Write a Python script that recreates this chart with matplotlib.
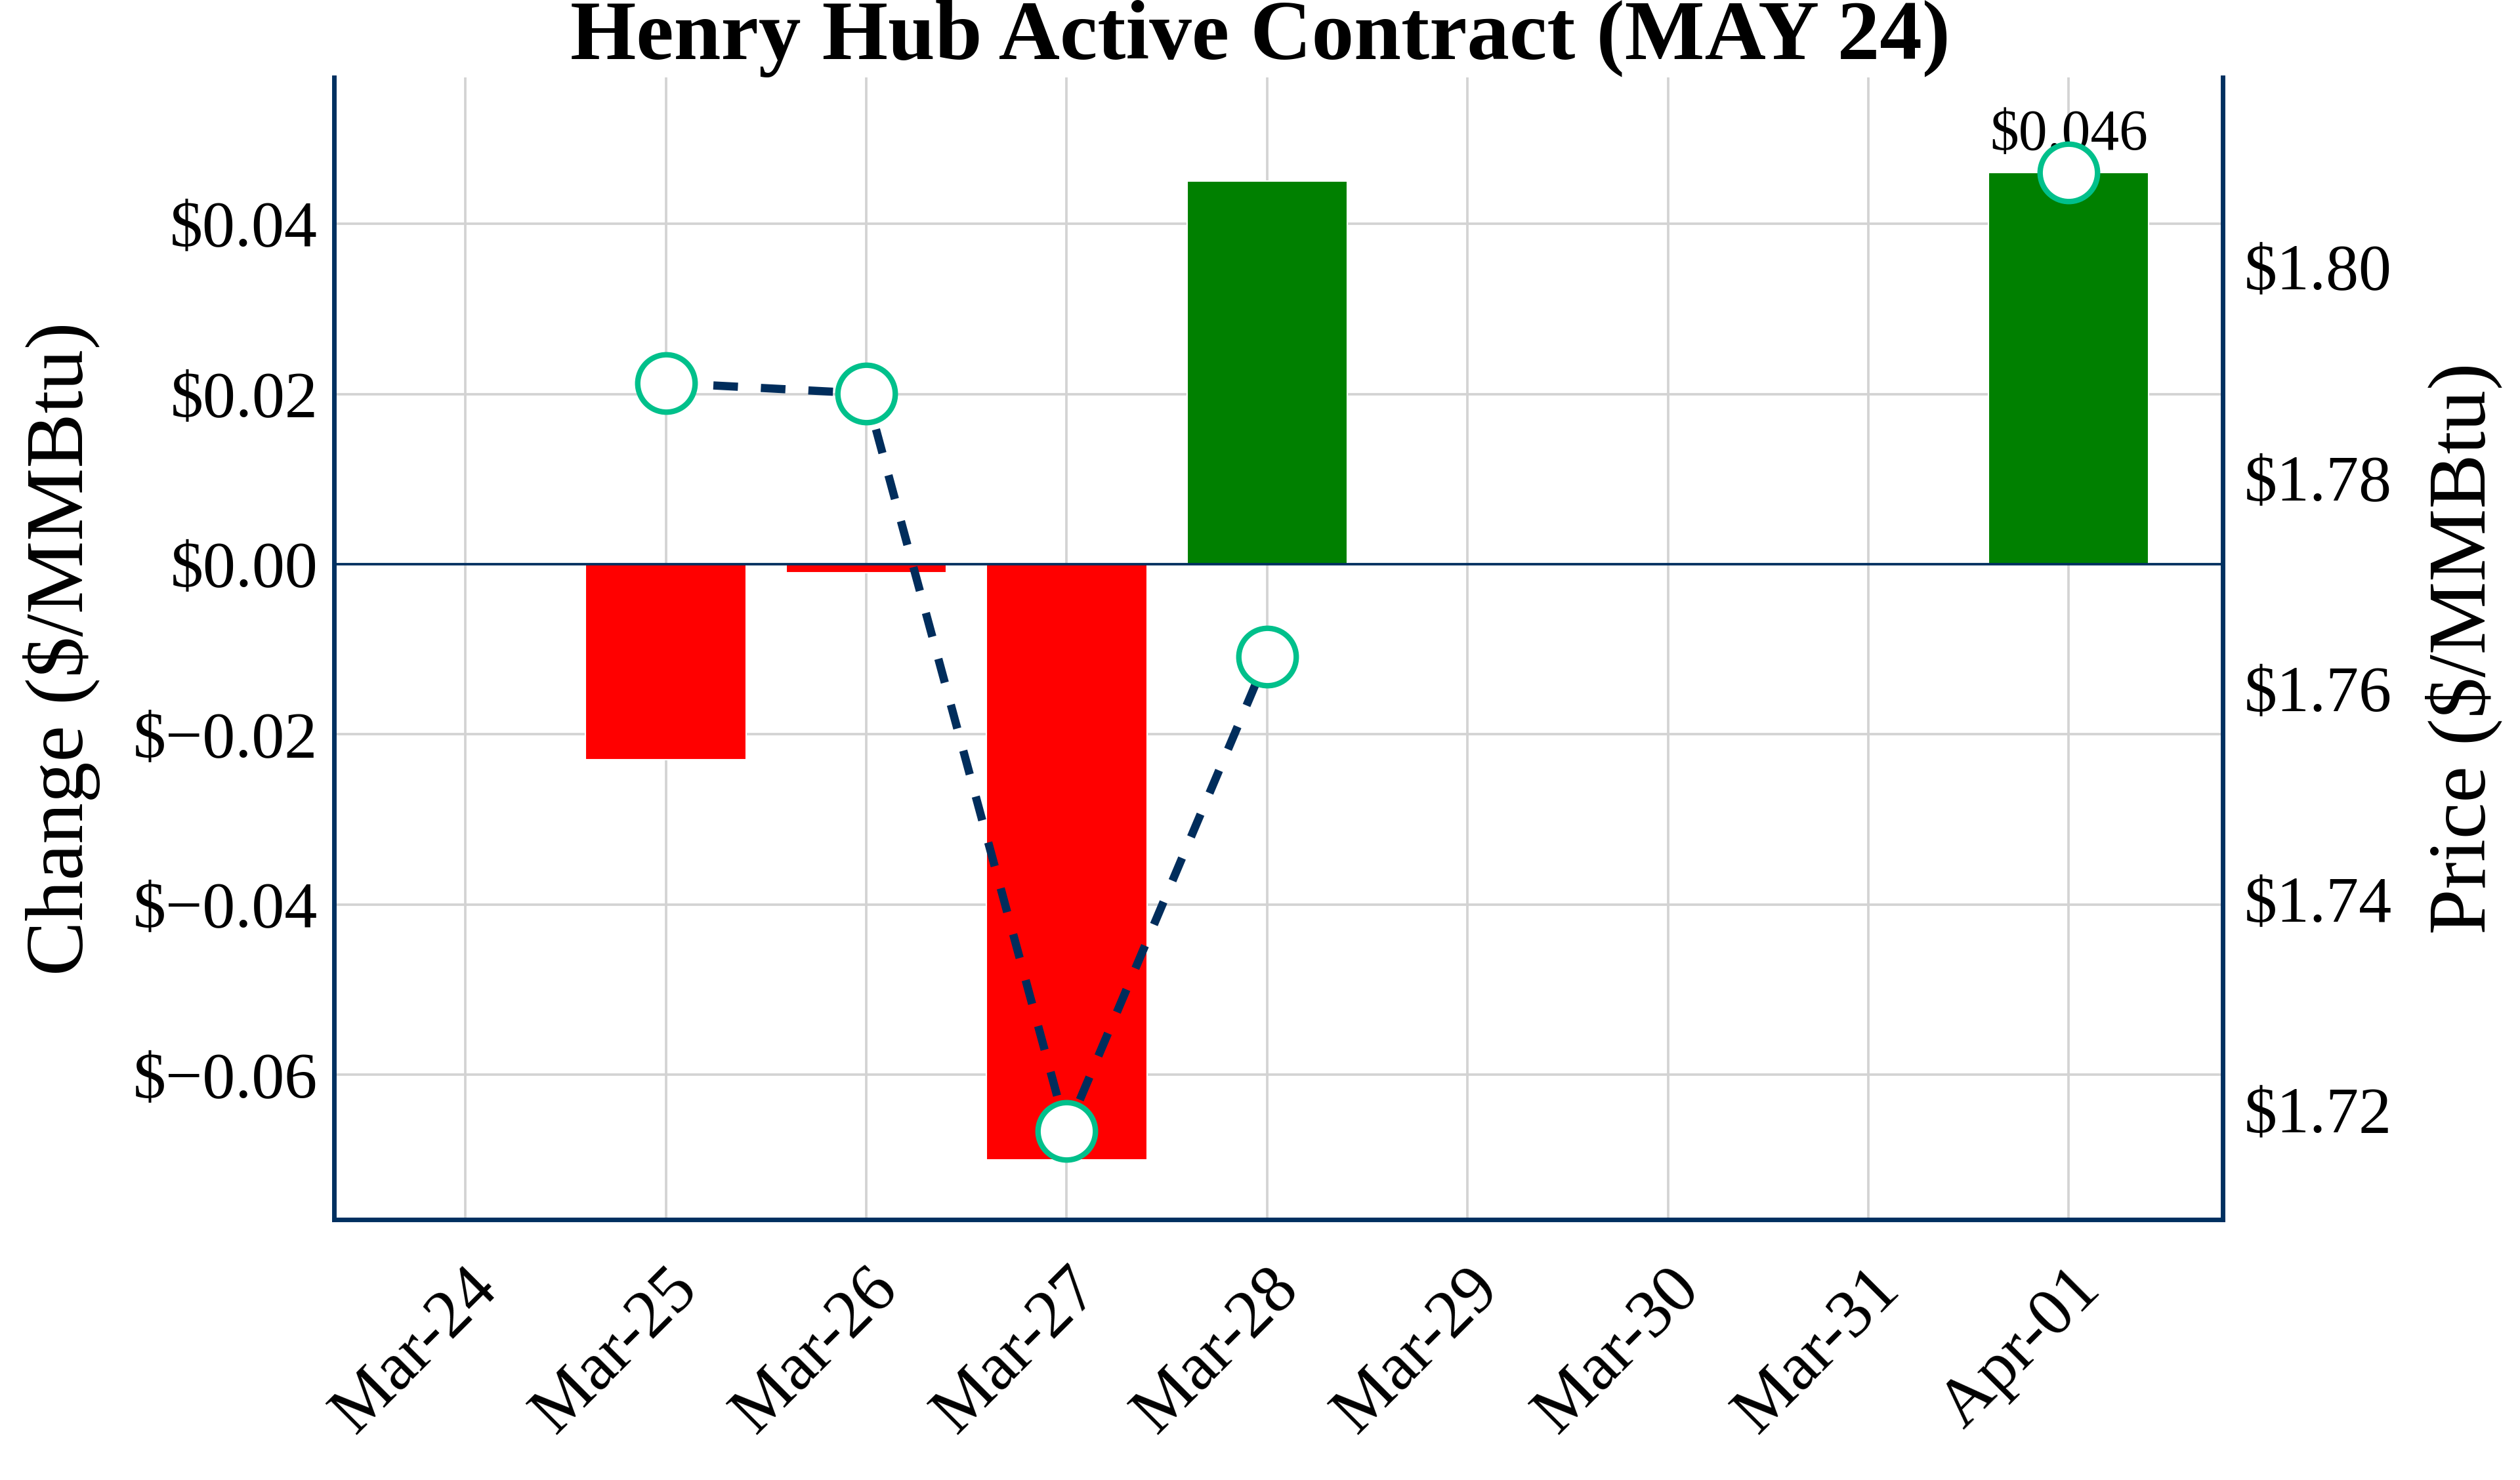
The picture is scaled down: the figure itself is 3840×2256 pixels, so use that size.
import numpy as np
import matplotlib.pyplot as plt
from matplotlib.ticker import FuncFormatter, MultipleLocator

plt.rcParams['font.family'] = ['Liberation Serif', 'DejaVu Serif']

# data
dates = ["Mar-24", "Mar-25", "Mar-26", "Mar-27", "Mar-28", "Mar-29", "Mar-30", "Mar-31", "Apr-01"]
change = [np.nan, -0.023, -0.001, -0.070, 0.045, np.nan, np.nan, np.nan, 0.046]
price = [np.nan, 1.789, 1.788, 1.718, 1.763, np.nan, np.nan, np.nan, 1.809]
title = "Henry Hub Active Contract (MAY 24)"

navy = "#003060"
line_col = "#002D5C"
mk_col = "#00C08B"


def money(v, pos=None, nd=2):
    s = f"${abs(v):.{nd}f}"
    if v < 0 and round(abs(v), nd) != 0:
        s = "$\u2212" + s[1:]
    return s


x = np.arange(len(dates))
chg = np.array(change)
bar_cols = ["green" if c > 0 else "red" for c in np.nan_to_num(chg)]

fig, ax = plt.subplots(figsize=(12.8, 7.52), dpi=300)
fig.subplots_adjust(left=0.1326, right=0.882, top=0.9477, bottom=0.176)

ax.set_axisbelow(True)
ax.grid(True, color="#d3d3d3", linewidth=0.9)
ax.bar(x, np.nan_to_num(chg), width=0.8, color=bar_cols, edgecolor="white", linewidth=0.5, zorder=2)
ax.axhline(0, color=navy, linewidth=0.9, zorder=3)

ax.set_xlim(-0.655, 8.768)
ax.set_ylim(-0.077, 0.0572)
ax.yaxis.set_major_locator(MultipleLocator(0.02))
ax.yaxis.set_major_formatter(FuncFormatter(money))
ax.set_xticks(x)
ax.set_xticklabels(dates, rotation=45, ha="right", rotation_mode="anchor")
ax.tick_params(axis="both", length=0)
ax.tick_params(axis="x", pad=14, labelsize=25)
ax.tick_params(axis="y", pad=6, labelsize=24)
ax.set_ylabel("Change ($/MMBtu)", fontsize=30, labelpad=12)
# title is centred on the figure, not on the axes
ax.set_title(title, fontsize=31, fontweight="bold", pad=4, x=(0.5 - 0.1326) / (0.882 - 0.1326))

for side in ["left", "bottom", "right"]:
    ax.spines[side].set_color(navy)
    ax.spines[side].set_linewidth(1.6)
ax.spines["top"].set_visible(False)

ax2 = ax.twinx()
ax2.plot(x, price, linestyle=(0, (3, 2.8)), color=line_col, linewidth=3,
         marker="o", markersize=21, markerfacecolor="white",
         markeredgecolor=mk_col, markeredgewidth=2, zorder=5)
ax2.set_ylim(1.7096, 1.818)
ax2.yaxis.set_major_locator(MultipleLocator(0.02))
ax2.yaxis.set_major_formatter(FuncFormatter(money))
ax2.tick_params(axis="y", length=0, labelsize=24, pad=8)
ax2.set_ylabel("Price ($/MMBtu)", fontsize=30, labelpad=12)
for side in ["left", "bottom", "right"]:
    ax2.spines[side].set_color(navy)
    ax2.spines[side].set_linewidth(1.6)
ax2.spines["top"].set_visible(False)

# label the latest change
last = len(change) - 1
ax.annotate(money(change[last], nd=3), (x[last], change[last]), xytext=(0, 4),
            textcoords="offset points", ha="center", va="bottom", fontsize=21, zorder=6)

fig.savefig("out.png", dpi=300)
